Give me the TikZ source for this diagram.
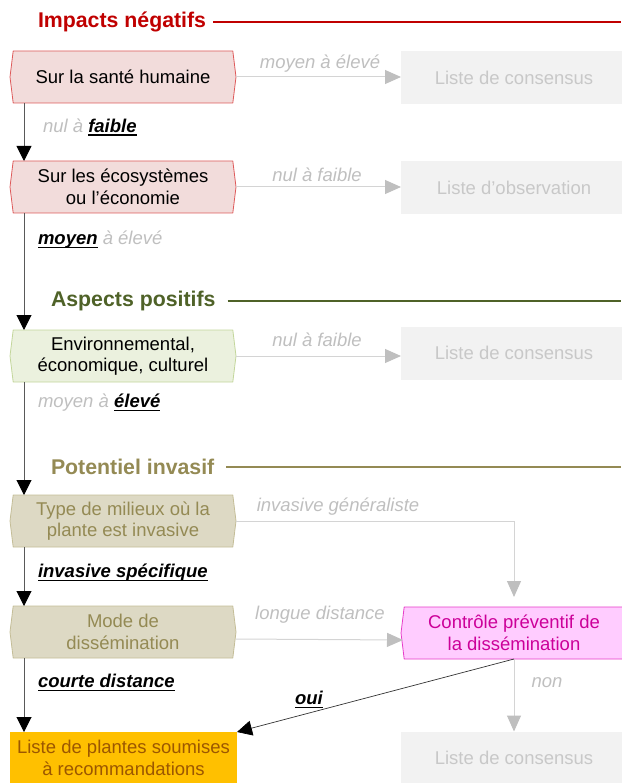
\documentclass[tikz,border=0pt]{standalone}
\usepackage{fontspec}
\setmainfont{Liberation Sans}
\usetikzlibrary{arrows.meta,shapes.symbols}
\definecolor{redT}{RGB}{192,0,0}
\definecolor{redF}{RGB}{242,220,219}
\definecolor{redD}{RGB}{222,90,90}
\definecolor{grnT}{RGB}{79,98,40}
\definecolor{grnF}{RGB}{235,241,222}
\definecolor{grnD}{RGB}{195,214,155}
\definecolor{khaT}{RGB}{148,138,84}
\definecolor{khaF}{RGB}{221,217,196}
\definecolor{khaD}{RGB}{196,189,151}
\definecolor{pnkF}{RGB}{255,204,255}
\definecolor{pnkD}{RGB}{230,60,200}
\definecolor{pnkT}{RGB}{204,0,153}
\definecolor{orgF}{RGB}{255,192,0}
\definecolor{orgT}{RGB}{156,87,0}
\definecolor{gryF}{RGB}{242,242,242}
\definecolor{gryT}{RGB}{200,200,200}
\definecolor{gryL}{RGB}{191,191,191}
\definecolor{gryA}{RGB}{212,212,212}
\newcommand{\bfu}[1]{\textcolor{black}{\setbox0\hbox{\textbf{#1}}\rlap{\rule[-3.5pt]{\wd0}{1.4pt}}\box0}}
\begin{document}
\begin{tikzpicture}[x=1pt,y=-1pt,
  every node/.style={inner sep=0pt, outer sep=0pt},
  hexbox/.style={signal, signal to=east and west, signal pointer angle=166,
    minimum width=226pt, minimum height=52pt, align=center,
    font=\fontsize{18.5}{21.5}\selectfont, line width=0.8pt},
  redbox/.style={hexbox, fill=redF, draw=redD, text=black},
  grnbox/.style={hexbox, fill=grnF, draw=grnD, text=black},
  khabox/.style={hexbox, fill=khaF, draw=khaD, text=khaT},
  pnkbox/.style={hexbox, fill=pnkF, draw=pnkD, text=pnkT},
  grybox/.style={rectangle, fill=gryF, text=gryT, minimum width=226pt,
    minimum height=53pt, align=center, font=\fontsize{18.5}{21.5}\selectfont},
  orgbox/.style={rectangle, fill=orgF, text=orgT, minimum width=227pt,
    minimum height=52pt, align=center, font=\fontsize{18.5}{21.5}\selectfont},
  title/.style={anchor=west, font=\fontsize{21.3}{24}\selectfont\bfseries},
  lbl/.style={font=\fontsize{18.5}{21.5}\selectfont\itshape, text=gryL},
  garrow/.style={draw=gryA, line width=1pt, -{Triangle[length=16pt,width=14pt,color=gryL,fill=gryL]}},
  barrow/.style={draw=black!65, line width=1pt, -{Triangle[length=15pt,width=15pt,color=black,fill=black]}},
  oarrow/.style={draw=black!80, line width=0.7pt, -{Triangle[length=15pt,width=15pt,color=black,fill=black]}},
]
\useasboundingbox (0,0) rectangle (621,783);
\coordinate (vx) at (24,0);
\coordinate (rx) at (621,0);

% titles
\node[title, text=redT] (t1) at (38,22) {Impacts négatifs};
\draw[redT, line width=2pt] ([xshift=7pt]t1.east) -- (t1.east -| rx);
\node[title, text=grnT] (t2) at (51,301) {Aspects positifs};
\draw[grnT, line width=2pt] ([xshift=12pt]t2.east) -- (t2.east -| rx);
\node[title, text=khaT] (t3) at (51,467) {Potentiel invasif};
\draw[khaT, line width=2pt] ([xshift=12pt]t3.east) -- (t3.east -| rx);

% left boxes
\node[redbox] (b1) at (123,77) {Sur la santé humaine};
\node[redbox] (b2) at (123,187) {Sur les écosystèmes\\ou l’économie};
\node[grnbox] (b3) at (123,356) {Environnemental,\\économique, culturel};
\node[khabox] (b4) at (123,521) {Type de milieux où la\\plante est invasive};
\node[khabox] (b5) at (123,632) {Mode de\\dissémination};
\node[orgbox] (o1) at (123.5,758) {Liste de plantes soumises\\à recommandations};

% right boxes
\node[grybox] (g1) at (514,78) {Liste de consensus};
\node[grybox] (g2) at (514,188) {Liste d'observation};
\node[grybox] (g3) at (514,353) {Liste de consensus};
\node[pnkbox] (c1) at (514,633) {Contrôle préventif de\\la dissémination};
\node[grybox] (g4) at (514,758) {Liste de consensus};

% horizontal grey arrows
\draw[garrow] (b1.east) -- (b1.east -| g1.west);
\draw[garrow] (b2.east) -- (b2.east -| g2.west);
\draw[garrow] (b3.east) -- (b3.east -| g3.west);
\draw[garrow] (b4.east) -| ([yshift=10pt]c1.north);
\draw[garrow] ([yshift=-7pt]b5.east) -- ([yshift=-7pt,xshift=2pt]c1.west);
\draw[garrow] (c1.south) -- (g4.north);

% vertical black arrows
\draw[barrow] (b1.south -| vx) -- (b2.north -| vx);
\draw[barrow] (b2.south -| vx) -- (b3.north -| vx);
\draw[barrow] (b3.south -| vx) -- (b4.north -| vx);
\draw[barrow] (b4.south -| vx) -- (b5.north -| vx);
\draw[barrow] (b5.south -| vx) -- (o1.north -| vx);
\draw[oarrow] (c1.south) -- (o1.north east);

% labels
\node[lbl] (l1) at (320,64) {moyen à élevé};
\node[lbl, anchor=west] (l2) at (43,127) {nul à \bfu{faible}};
\node[lbl] (l3) at (317,175) {nul à faible};
\node[lbl, anchor=west] (l4) at (38,240) {\bfu{moyen} à élevé};
\node[lbl] (l5) at (317,340) {nul à faible};
\node[lbl, anchor=west] (l6) at (38,403) {moyen à \bfu{élevé}};
\node[lbl] (l7) at (338,507) {invasive généraliste};
\node[lbl, anchor=west] (l8) at (38,573) {\bfu{invasive spécifique}};
\node[lbl] (l9) at (320,615) {longue distance};
\node[lbl, anchor=west] (l10) at (38,683) {\bfu{courte distance}};
\node[lbl] (l11) at (547,683) {non};
\node[lbl] (l12) at (309,700) {\bfu{oui}};
\end{tikzpicture}
\end{document}
